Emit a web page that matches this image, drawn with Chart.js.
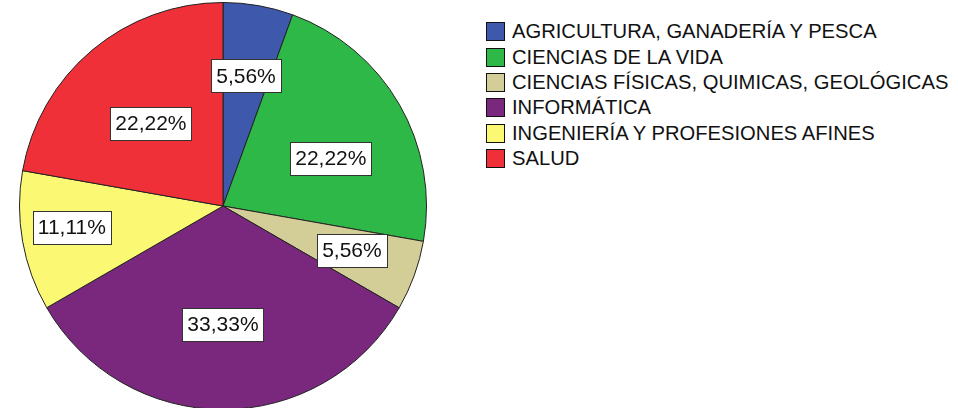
<!DOCTYPE html>
<html>
<head>
<meta charset="utf-8">
<script src="https://cdn.jsdelivr.net/npm/chart.js@4/dist/chart.umd.min.js"></script>
<style>
  html, body { margin: 0; padding: 0; background: #fff; overflow: hidden; }
  #wrap { position: absolute; left: 0; top: 2px; width: 446px; height: 408px; }
  #legend { position: absolute; left: 486px; top: 19px; font-family: "Liberation Sans", Arial, sans-serif; font-size: 20.2px; color: #111; }
  .item { display: flex; align-items: center; height: 25.4px; white-space: nowrap; }
  .sw { width: 17px; height: 17px; border: 1px solid #111; margin-right: 7px; flex: none; }
</style>
</head>
<body>
<div id="wrap"><canvas id="pie"></canvas></div>
<div id="legend"></div>
<script>
// data
const categories = [
  'AGRICULTURA, GANADERÍA Y PESCA',
  'CIENCIAS DE LA VIDA',
  'CIENCIAS FÍSICAS, QUIMICAS, GEOLÓGICAS',
  'INFORMÁTICA',
  'INGENIERÍA Y PROFESIONES AFINES',
  'SALUD',
];
const percents = [5.56, 22.22, 5.56, 33.33, 11.11, 22.22];

// styles
const sliceColors = ['#3E58AC', '#2EB848', '#D3CE97', '#79287D', '#FBF873', '#EF3038'];
const labelRadius = [0.65, 0.58, 0.67, 0.58, 0.75, 0.54];   // fraction of outer radius
const labelNudge  = [0, 6, -1, 0, 2, -1];                   // degrees, clockwise
const FONT = '"Liberation Sans", Arial, sans-serif';

const legendEl = document.getElementById('legend');
categories.forEach((c, i) => {
  const row = document.createElement('div');
  row.className = 'item';
  row.innerHTML = `<span class="sw" style="background:${sliceColors[i]}"></span><span>${c}</span>`;
  legendEl.appendChild(row);
});

const boxLabels = {
  id: 'boxLabels',
  afterDatasetsDraw(chart) {
    const ctx = chart.ctx;
    const meta = chart.getDatasetMeta(0);
    ctx.save();
    ctx.font = '21px ' + FONT;
    ctx.textAlign = 'center';
    ctx.textBaseline = 'middle';
    meta.data.forEach((arc, i) => {
      const { x, y, startAngle, endAngle, outerRadius } = arc.getProps(['x', 'y', 'startAngle', 'endAngle', 'outerRadius'], true);
      const a = (startAngle + endAngle) / 2 + labelNudge[i] * Math.PI / 180;
      const r = outerRadius * labelRadius[i];
      const cx = x + Math.cos(a) * r;
      const cy = y + Math.sin(a) * r;
      const txt = percents[i].toFixed(2).replace('.', ',') + '%';
      const w = ctx.measureText(txt).width + 10;
      const h = 33;
      ctx.fillStyle = '#fff';
      ctx.fillRect(Math.round(cx - w / 2) + 0.5, Math.round(cy - h / 2) + 0.5, Math.round(w), h);
      ctx.strokeStyle = '#333';
      ctx.lineWidth = 1;
      ctx.strokeRect(Math.round(cx - w / 2) + 0.5, Math.round(cy - h / 2) + 0.5, Math.round(w), h);
      ctx.fillStyle = '#111';
      ctx.fillText(txt, cx, cy + 1);
    });
    ctx.restore();
  },
};

new Chart(document.getElementById('pie'), {
  type: 'pie',
  data: {
    labels: categories,
    datasets: [{
      data: percents,
      backgroundColor: sliceColors,
      borderColor: '#222',
      borderWidth: 1,
    }],
  },
  options: {
    responsive: true, maintainAspectRatio: false, animation: false,
    layout: { padding: 0 },
    plugins: { legend: { display: false }, tooltip: { enabled: false } },
  },
  plugins: [boxLabels],
});
</script>
</body>
</html>
